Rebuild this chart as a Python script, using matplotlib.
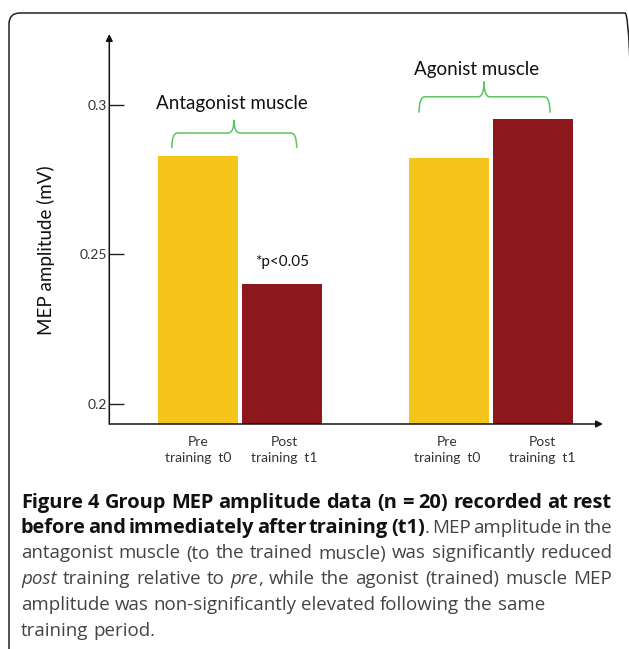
import numpy as np
import matplotlib
matplotlib.use("Agg")
import matplotlib.pyplot as plt
from matplotlib.path import Path
from matplotlib.patches import PathPatch, FancyBboxPatch
from matplotlib.transforms import IdentityTransform, blended_transform_factory

# data
groups = ["Antagonist muscle", "Agonist muscle"]
conditions = ["Pre\ntraining  t0", "Post\ntraining  t1"]
positions = [0, 1, 3, 4]
values = [0.2829, 0.2402, 0.2824, 0.2952]
bar_colors = ["#F5C51C", "#8C171C", "#F5C51C", "#8C171C"]
yticks = [0.2, 0.25, 0.3]
signif = "*p<0.05"

W, H = 629, 649
fig = plt.figure(figsize=(W / 100, H / 100), dpi=100)
fig.patch.set_facecolor("white")

# outer rounded frame (cut by the right and bottom edge of the image)
frame = FancyBboxPatch((9, -40), 627, H - 13 + 40,
                       boxstyle="round,pad=0,rounding_size=11",
                       transform=IdentityTransform(), fill=False,
                       ec="#222222", lw=1.1)
fig.patches.append(frame)

# axes placed in pixel terms
ax_l, ax_r, ax_t, ax_b = 109.3, 603, 34, 424
ax = fig.add_axes([ax_l / W, 1 - ax_b / H, (ax_r - ax_l) / W, (ax_b - ax_t) / H])
ax.set_xlim(-1.068, 4.844)
ax.set_ylim(0.1933, 0.3237)

ax.bar(positions, values, width=0.958, color=bar_colors, zorder=2)

for s in ax.spines.values():
    s.set_visible(False)
ax.annotate("", xy=(0, 1), xytext=(0, 0), xycoords="axes fraction",
            arrowprops=dict(arrowstyle="-|>", lw=1.1, color="#111111",
                            mutation_scale=10, shrinkA=0, shrinkB=0))
ax.annotate("", xy=(1, 0), xytext=(0, 0), xycoords="axes fraction",
            arrowprops=dict(arrowstyle="-|>", lw=1.1, color="#111111",
                            mutation_scale=10, shrinkA=0, shrinkB=0))

font = "Lato"
ax.set_yticks(yticks)
ax.set_yticklabels(["0.2", "0.25", "0.3"], fontsize=10, family=font, color="#333333")
ax.tick_params(axis="y", direction="in", length=10.5, width=1.0, pad=1.5, color="#222222")
ax.set_xticks([])

ax.set_ylabel("MEP amplitude (mV)", fontsize=13.5, family=font, color="#111111")
ax.yaxis.set_label_coords(-0.11, 0.445)

trans = blended_transform_factory(ax.transData, ax.transAxes)
label_shift = [0, 0.03, -0.02, 0.12]
for i, p in enumerate(positions):
    ax.text(p + label_shift[i], -0.0667, conditions[i % 2], transform=trans,
            ha="center", va="center", fontsize=10, family=font,
            color="#333333", linespacing=1.35)


def brace(x0, x1, xm, yb, yh, yt):
    rx = 0.07
    verts = [(x0, yb), (x0, yh), (x0 + rx, yh),
             (xm - rx, yh), (xm, yh), (xm, yt),
             (xm, yh), (xm + rx, yh),
             (x1 - rx, yh), (x1, yh), (x1, yb)]
    codes = [Path.MOVETO, Path.CURVE3, Path.CURVE3,
             Path.LINETO, Path.CURVE3, Path.CURVE3,
             Path.CURVE3, Path.CURVE3,
             Path.LINETO, Path.CURVE3, Path.CURVE3]
    ax.add_patch(PathPatch(Path(verts, codes), fill=False, ec="#5DC45D",
                           lw=1.1, clip_on=False))


brace(-0.320, 1.176, 0.425, 0.2856, 0.2906, 0.2950)
brace(2.641, 4.210, 3.419, 0.2974, 0.3027, 0.3078)
ax.text(0.395, 0.3003, groups[0], ha="center", va="center", fontsize=13.5,
        family=font, color="#111111")
ax.text(3.327, 0.3119, groups[1], ha="center", va="center", fontsize=13.5,
        family=font, color="#111111")
ax.text(1.0, 0.2473, signif, ha="center", va="center", fontsize=11,
        family=font, color="#111111")

# caption, drawn word by word so the lines can be justified
cap_font = "Open Sans"
styles = {"b": dict(weight="bold", color="#111111"),
          "r": dict(weight="normal", color="#444444"),
          "i": dict(weight="normal", style="italic", color="#444444")}

cap_lines = [
    ([[("Figure", "b")], [("4", "b")], [("Group", "b")], [("MEP", "b")],
      [("amplitude", "b")], [("data", "b")], [("(n", "b")], [("=", "b")],
      [("20)", "b")], [("recorded", "b")], [("at", "b")], [("rest", "b")]], True),
    ([[("before", "b")], [("and", "b")], [("immediately", "b")], [("after", "b")],
      [("training", "b")], [("(t1)", "b"), (".", "r")], [("MEP", "r")],
      [("amplitude", "r")], [("in", "r")], [("the", "r")]], True),
    ([[(w, "r")] for w in "antagonist muscle (to the trained muscle) was significantly reduced".split()], True),
    ([[("post", "i")], [("training", "r")], [("relative", "r")], [("to", "r")],
      [("pre", "i"), (",", "r")], [("while", "r")], [("the", "r")], [("agonist", "r")],
      [("(trained)", "r")], [("muscle", "r")], [("MEP", "r")]], True),
    ([[(w, "r")] for w in "amplitude was non-significantly elevated following the same".split()], False),
    ([[(w, "r")] for w in "training period.".split()], False),
]
cap_base = [508, 533, 558.5, 584, 610, 636]
cap_x0, cap_x1 = 21, 612
line5_end = 543

fig.canvas.draw()
rend = fig.canvas.get_renderer()


def part_width(txt, st, size):
    t = fig.text(0, 0, txt, fontsize=size, family=cap_font, **styles[st])
    w = t.get_window_extent(rend).width
    t.remove()
    return w


# bold size so the first line fills the width; regular size from line five
first = " ".join(wd[0][0] for wd in cap_lines[0][0])
fifth = " ".join(wd[0][0] for wd in cap_lines[4][0])
b_size = 12 * (cap_x1 - cap_x0) / part_width(first, "b", 12)
r_size = 12 * (line5_end - cap_x0) / part_width(fifth, "r", 12)
sizes = {"b": b_size, "r": r_size, "i": r_size}

space_w = part_width("a a", "r", r_size) - part_width("aa", "r", r_size)
for (words, justify), yy in zip(cap_lines, cap_base):
    widths = [[part_width(t, s, sizes[s]) for t, s in wd] for wd in words]
    total = sum(sum(w) for w in widths)
    gap = (cap_x1 - cap_x0 - total) / (len(words) - 1) if justify else space_w
    x = cap_x0
    for wd, ws in zip(words, widths):
        for (t, s), w in zip(wd, ws):
            fig.text(x / W, 1 - yy / H, t, fontsize=sizes[s], family=cap_font,
                     va="baseline", ha="left", **styles[s])
            x += w
        x += gap

fig.savefig("out.png", dpi=100, facecolor="white")
